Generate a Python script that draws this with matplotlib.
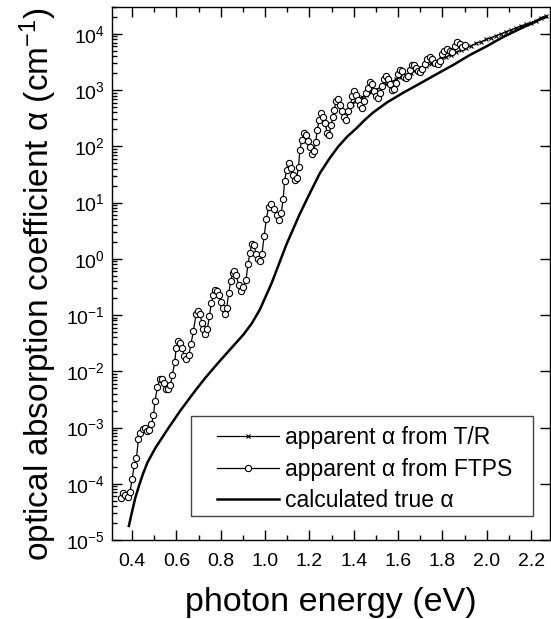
import numpy as np
import matplotlib.pyplot as plt
from matplotlib.ticker import MultipleLocator, LogLocator, NullFormatter, FormatStrFormatter
from matplotlib.patches import Rectangle

plt.rcParams['font.family'] = ['Liberation Sans', 'DejaVu Sans']
plt.rcParams['mathtext.fontset'] = 'custom'
plt.rcParams['mathtext.rm'] = 'Liberation Sans'
plt.rcParams['mathtext.it'] = 'Liberation Sans:italic'
plt.rcParams['mathtext.default'] = 'regular'

# apparent alpha from FTPS (photon energy in eV, log10 of alpha in cm^-1)
ftps_e = [0.350, 0.360, 0.370, 0.381, 0.391, 0.401, 0.410, 0.420, 0.429, 0.438,
          0.449, 0.458, 0.467, 0.476, 0.488, 0.497, 0.504, 0.515, 0.526, 0.535,
          0.545, 0.554, 0.563, 0.573, 0.582, 0.593, 0.599, 0.609, 0.618, 0.627,
          0.635, 0.644, 0.656, 0.666, 0.677, 0.689, 0.698, 0.707, 0.716, 0.722,
          0.731, 0.740, 0.749, 0.758, 0.767, 0.773, 0.782, 0.791, 0.800, 0.809,
          0.818, 0.827, 0.836, 0.845, 0.854, 0.861, 0.869, 0.881, 0.891, 0.902,
          0.914, 0.923, 0.932, 0.940, 0.950, 0.959, 0.968, 0.977, 0.986, 0.996,
          1.006, 1.016, 1.028, 1.040, 1.052, 1.062, 1.073, 1.082, 1.088, 1.097,
          1.106, 1.115, 1.124, 1.133, 1.142, 1.151, 1.157, 1.166, 1.175, 1.184,
          1.193, 1.202, 1.211, 1.220, 1.229, 1.235, 1.244, 1.253, 1.262, 1.271,
          1.280, 1.289, 1.298, 1.307, 1.313, 1.319, 1.328, 1.340, 1.349, 1.358,
          1.367, 1.376, 1.385, 1.394, 1.403, 1.412, 1.421, 1.430, 1.439, 1.448,
          1.457, 1.466, 1.475, 1.484, 1.493, 1.502, 1.511, 1.520, 1.529, 1.538,
          1.547, 1.556, 1.565, 1.574, 1.583, 1.592, 1.601, 1.610, 1.619, 1.628,
          1.637, 1.646, 1.655, 1.664, 1.673, 1.682, 1.691, 1.700, 1.709, 1.720,
          1.730, 1.742, 1.754, 1.766, 1.778, 1.787, 1.797, 1.809, 1.820, 1.832,
          1.844, 1.856, 1.865, 1.877, 1.889, 1.901]
ftps_log = [-4.25, -4.16, -4.20, -4.24, -4.15, -3.91, -3.67, -3.55, -3.21, -3.09,
            -3.03, -3.01, -3.07, -3.04, -2.94, -2.78, -2.52, -2.28, -2.13, -2.13,
            -2.20, -2.31, -2.32, -2.25, -2.07, -1.84, -1.59, -1.47, -1.50, -1.58,
            -1.73, -1.79, -1.71, -1.52, -1.28, -0.99, -0.93, -0.99, -1.14, -1.25,
            -1.34, -1.25, -1.02, -0.79, -0.64, -0.55, -0.58, -0.64, -0.76, -0.88,
            -0.98, -0.88, -0.61, -0.40, -0.25, -0.21, -0.28, -0.46, -0.58, -0.50,
            -0.38, -0.10, 0.11, 0.26, 0.24, 0.09, -0.01, -0.04, 0.08, 0.41,
            0.71, 0.92, 0.97, 0.89, 0.77, 0.69, 0.81, 1.07, 1.38, 1.58,
            1.70, 1.62, 1.49, 1.40, 1.43, 1.63, 1.93, 2.12, 2.24, 2.21,
            2.10, 1.99, 1.87, 1.92, 2.08, 2.29, 2.47, 2.59, 2.53, 2.41,
            2.24, 2.20, 2.38, 2.53, 2.65, 2.80, 2.84, 2.74, 2.62, 2.52,
            2.47, 2.62, 2.74, 2.89, 2.98, 2.92, 2.83, 2.74, 2.68, 2.80,
            2.95, 3.04, 3.14, 3.10, 2.98, 2.89, 2.86, 2.95, 3.07, 3.19,
            3.25, 3.20, 3.10, 3.01, 3.02, 3.13, 3.28, 3.36, 3.34, 3.24,
            3.22, 3.25, 3.35, 3.44, 3.45, 3.40, 3.34, 3.32, 3.38, 3.46,
            3.55, 3.59, 3.56, 3.49, 3.46, 3.52, 3.64, 3.70, 3.73, 3.70,
            3.68, 3.79, 3.85, 3.82, 3.77, 3.80]

# apparent alpha from T/R
tr_e = [1.390, 1.410, 1.435, 1.457, 1.480, 1.500, 1.525, 1.547, 1.570, 1.590,
        1.615, 1.637, 1.660, 1.680, 1.705, 1.727, 1.750, 1.770, 1.795, 1.817,
        1.840, 1.860, 1.885, 1.907, 1.930, 1.950, 1.975, 1.997, 2.020, 2.042,
        2.065, 2.087, 2.110, 2.130, 2.155, 2.177, 2.200, 2.220, 2.245, 2.267]
tr_log = [2.76, 2.81, 2.87, 2.92, 2.97, 3.01, 3.06, 3.10, 3.15, 3.19,
          3.23, 3.27, 3.31, 3.35, 3.39, 3.43, 3.47, 3.51, 3.55, 3.59,
          3.63, 3.67, 3.71, 3.75, 3.79, 3.83, 3.86, 3.90, 3.93, 3.97,
          4.00, 4.04, 4.07, 4.10, 4.14, 4.17, 4.20, 4.23, 4.29, 4.32]

# calculated true alpha
true_e = [0.386, 0.400, 0.415, 0.432, 0.450, 0.470, 0.506, 0.566, 0.618, 0.686,
          0.730, 0.782, 0.827, 0.902, 0.940, 0.977, 1.030, 1.097, 1.157, 1.200,
          1.247, 1.290, 1.329, 1.370, 1.412, 1.450, 1.487, 1.550, 1.622, 1.700,
          1.772, 1.850, 1.922, 2.000, 2.072, 2.150, 2.252, 2.270]
true_log = [-4.75, -4.50, -4.25, -4.03, -3.82, -3.62, -3.36, -3.00, -2.70, -2.34,
            -2.12, -1.88, -1.68, -1.35, -1.15, -0.90, -0.43, 0.26, 0.80, 1.15,
            1.52, 1.78, 1.99, 2.17, 2.32, 2.47, 2.60, 2.78, 2.95, 3.12,
            3.28, 3.45, 3.62, 3.78, 3.94, 4.09, 4.28, 4.30]

ftps_a = 10 ** np.array(ftps_log)
tr_a = 10 ** np.array(tr_log)
true_a = 10 ** np.array(true_log)

fig = plt.figure(figsize=(5.51, 6.19), dpi=100)
ax = fig.add_axes([0.2033, 0.1276, 0.7949, 0.8611])

ax.plot(tr_e, tr_a, color='black', lw=0.9, marker='x', ms=3.5, mew=0.8,
        label='apparent \u03b1 from T/R')
ax.plot(ftps_e, ftps_a, color='black', lw=0.9, marker='o', ms=4.5, mfc='white',
        mec='black', mew=0.8, label='apparent \u03b1 from FTPS')
ax.plot(true_e, true_a, color='black', lw=1.8, label='calculated true \u03b1')

ax.set_yscale('log')
ax.set_xlim(0.31, 2.285)
ax.set_ylim(1e-5, 3e4)

ax.xaxis.set_major_locator(MultipleLocator(0.2))
ax.xaxis.set_minor_locator(MultipleLocator(0.1))
ax.xaxis.set_major_formatter(FormatStrFormatter('%.1f'))
ax.yaxis.set_major_locator(LogLocator(base=10, numticks=20))
ax.yaxis.set_minor_locator(LogLocator(base=10, subs=np.arange(2, 10), numticks=20))
ax.yaxis.set_minor_formatter(NullFormatter())

ax.tick_params(which='both', direction='in', top=True, right=True, labelsize=14, width=1)
ax.tick_params(which='major', length=7)
ax.tick_params(which='minor', length=3.5)
ax.tick_params(axis='x', which='major', pad=9)
ax.tick_params(axis='y', which='major', pad=5)
ax.tick_params(axis='y', which='minor', right=False)
for s in ax.spines.values():
    s.set_linewidth(1)

ax.set_xlabel('photon energy (eV)', fontsize=24.5)
ax.set_ylabel('optical absorption coefficient \u03b1 (cm$^{-1}$)', fontsize=24)
ax.xaxis.set_label_coords(0.5, -0.088)
ax.yaxis.set_label_coords(-0.12, 0.48)

ax.add_patch(Rectangle((0.3475, 0.1664), 0.6198, 0.1616, transform=fig.transFigure,
                       facecolor='white', edgecolor='#444444', lw=1.0,
                       clip_on=False, zorder=4))
leg = ax.legend(loc='upper left', bbox_to_anchor=(0.3933, 0.311),
                bbox_transform=fig.transFigure, frameon=False, borderpad=0,
                borderaxespad=0, handlelength=2.7, handletextpad=0.3,
                labelspacing=0.36, fontsize=16.5, numpoints=1)
leg.set_zorder(5)

fig.savefig('out.png', dpi=100)
